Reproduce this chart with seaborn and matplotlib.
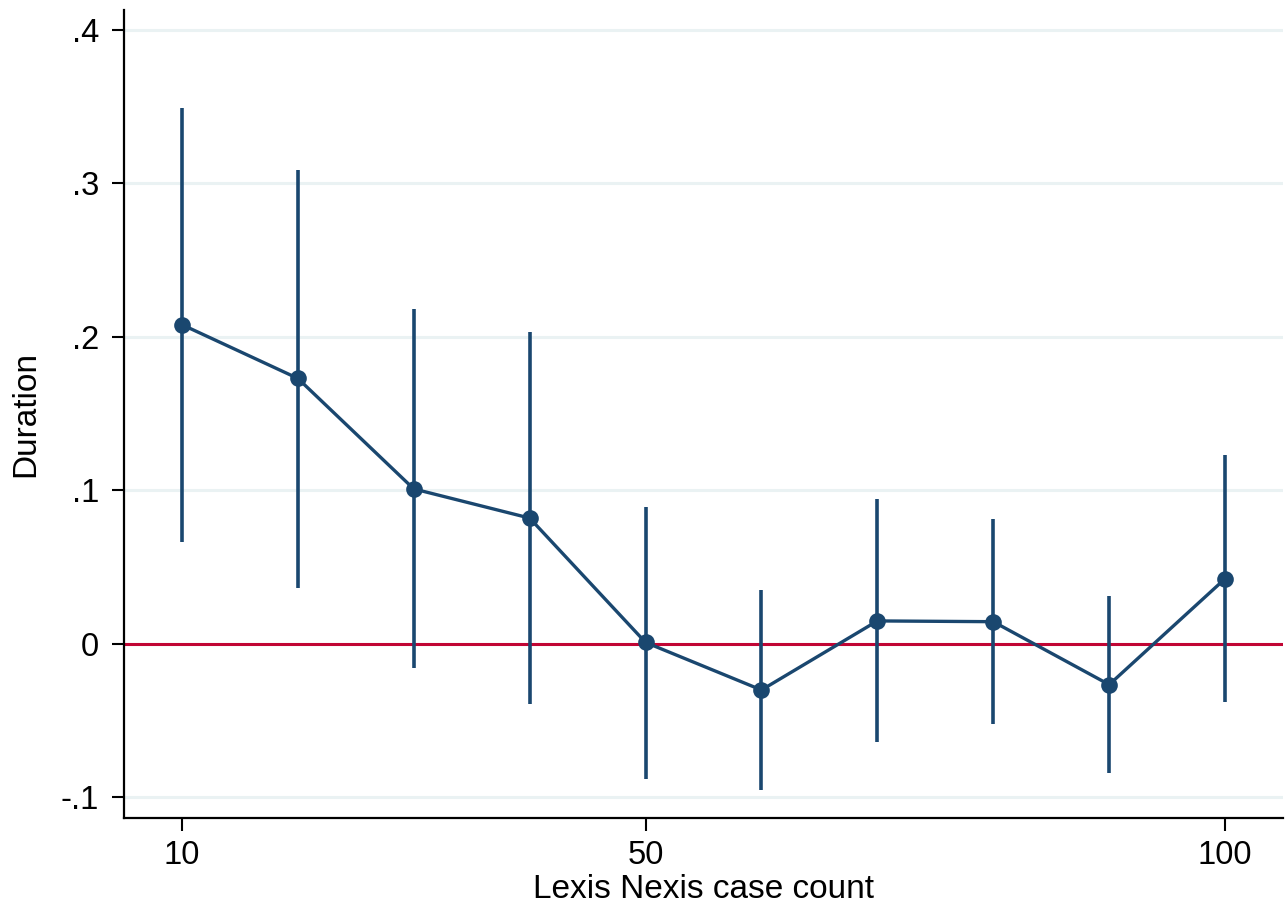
import matplotlib
matplotlib.use("Agg")
import matplotlib.pyplot as plt
import seaborn as sns
import pandas as pd

# --- Data ---
case_count = [10, 20, 30, 40, 50, 60, 70, 80, 90, 100]
estimate = [0.208, 0.173, 0.101, 0.082, 0.001, -0.030, 0.015, 0.0145, -0.0265, 0.0425]
ci_low = [0.0665, 0.0365, -0.0155, -0.039, -0.088, -0.095, -0.0638, -0.052, -0.084, -0.0378]
ci_high = [0.349, 0.309, 0.218, 0.203, 0.0895, 0.0352, 0.0945, 0.0815, 0.0313, 0.123]

x_ticks = [10, 50, 100]
y_ticks = [-0.1, 0, 0.1, 0.2, 0.3, 0.4]
y_labels = ["-.1", "0", ".1", ".2", ".3", ".4"]

df = pd.DataFrame({"count": case_count, "est": estimate, "lo": ci_low, "hi": ci_high})

navy = "#1a476f"
cranberry = "#c10534"

sns.set_style("white")
plt.rcParams["font.family"] = ["Liberation Sans", "DejaVu Sans"]
plt.rcParams["text.color"] = "black"
plt.rcParams["axes.labelcolor"] = "black"
plt.rcParams["xtick.color"] = "black"
plt.rcParams["ytick.color"] = "black"

fig = plt.figure(figsize=(12.86, 9.07), dpi=100)
ax = fig.add_axes([0.0964, 0.0981, 0.9013, 0.8909])

# grid lines
for yv in y_ticks:
    ax.axhline(yv, color="#eaf2f3", lw=2.2, zorder=0)

# zero reference line
ax.axhline(0, color=cranberry, lw=2.2, zorder=1)

# confidence intervals
ax.vlines(df["count"], df["lo"], df["hi"], color=navy, lw=2.6, zorder=2)

# point estimates
sns.lineplot(data=df, x="count", y="est", ax=ax, color=navy, lw=2.4,
             marker="o", markersize=12, markeredgewidth=0, zorder=3)

ax.set_xlim(5, 105)
ax.set_ylim(-0.1134, 0.413)
ax.set_xticks(x_ticks)
ax.set_xticklabels([str(v) for v in x_ticks])
ax.set_yticks(y_ticks)
ax.set_yticklabels(y_labels)

ax.set_xlabel("Lexis Nexis case count", fontsize=24, labelpad=2)
ax.set_ylabel("Duration", fontsize=24, labelpad=14)
ax.tick_params(axis="both", labelsize=23.5, length=9, width=1.5, color="black",
               labelcolor="black", direction="out", left=True, bottom=True)
ax.tick_params(axis="y", pad=9)
ax.tick_params(axis="x", pad=7)

sns.despine(ax=ax)
for side in ["left", "bottom"]:
    ax.spines[side].set_color("black")
    ax.spines[side].set_linewidth(1.6)

fig.savefig("out.png", dpi=100)
